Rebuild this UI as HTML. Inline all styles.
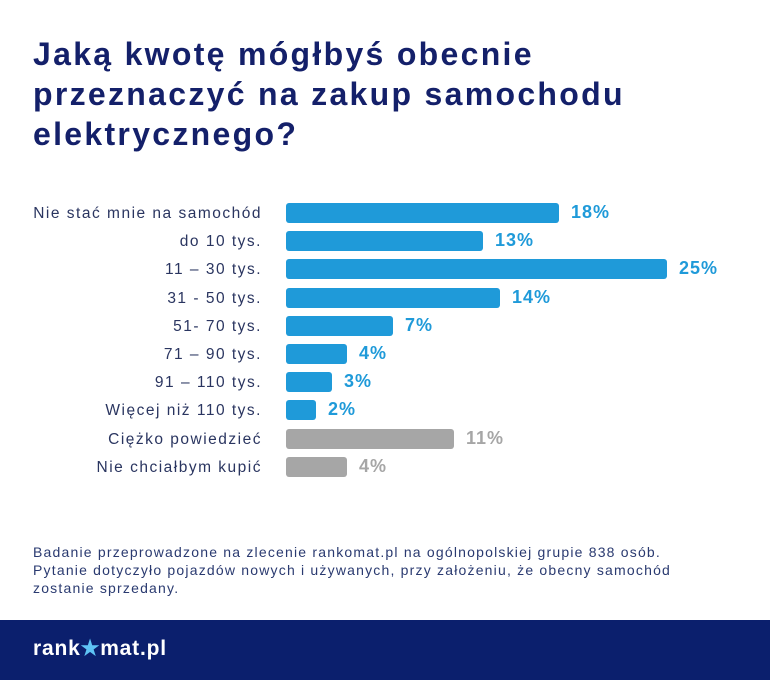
<!DOCTYPE html>
<html><head><meta charset="utf-8"><style>
body{margin:0;width:770px;height:680px;background:#fff;position:relative;font-family:"Liberation Sans",sans-serif;overflow:hidden}
h1{position:absolute;left:33px;top:34px;margin:0;font-size:32px;line-height:40px;color:#14206a;font-weight:bold;letter-spacing:2.3px}
.l{position:absolute;right:508px;font-size:15.5px;color:#2a3560;text-align:right;white-space:nowrap;letter-spacing:1.5px}
.b{position:absolute;left:286px;height:20px;border-radius:3px}
.p{position:absolute;font-size:18px;font-weight:bold;letter-spacing:1px}
.note{position:absolute;left:33px;top:543px;font-size:14px;line-height:18px;color:#2a3a70;letter-spacing:1.2px;white-space:nowrap}
.foot{position:absolute;left:0;top:620px;width:770px;height:60px;background:#0b1f6d}
.logo{position:absolute;left:33px;top:636px;color:#fff;font-size:21px;font-weight:bold;letter-spacing:0.8px}
</style></head><body>
<h1>Jaką kwotę mógłbyś obecnie<br>przeznaczyć na zakup samochodu<br>elektrycznego?</h1>
<div id="c"></div>
<div class="note">Badanie przeprowadzone na zlecenie rankomat.pl na ogólnopolskiej grupie 838 osób.<br>Pytanie dotyczyło pojazdów nowych i używanych, przy założeniu, że obecny samochód<br>zostanie sprzedany.</div>
<div class="foot"></div>
<div class="logo">rank<span style="color:#5fc3f5">★</span>mat.pl</div>
<script>
const d=[["Nie stać mnie na samochód",559,"18%"],["do 10 tys.",483,"13%"],["11 – 30 tys.",667,"25%"],["31 - 50 tys.",500,"14%"],["51- 70 tys.",393,"7%"],["71 – 90 tys.",347,"4%"],["91 – 110 tys.",332,"3%"],["Więcej niż 110 tys.",316,"2%"],["Ciężko powiedzieć",454,"11%"],["Nie chciałbym kupić",347,"4%"]];
let h="";d.forEach((r,i)=>{const cy=213+i*28.2;const g=i>=8;const col=g?"#a6a6a6":"#1f9ad9";
h+=`<div class="l" style="top:${cy-8}px">${r[0]}</div><div class="b" style="top:${cy-10}px;width:${r[1]-286}px;background:${col}"></div><div class="p" style="left:${r[1]+12}px;top:${cy-11}px;color:${col}">${r[2]}</div>`});
document.getElementById("c").innerHTML=h;
</script>
</body></html>
